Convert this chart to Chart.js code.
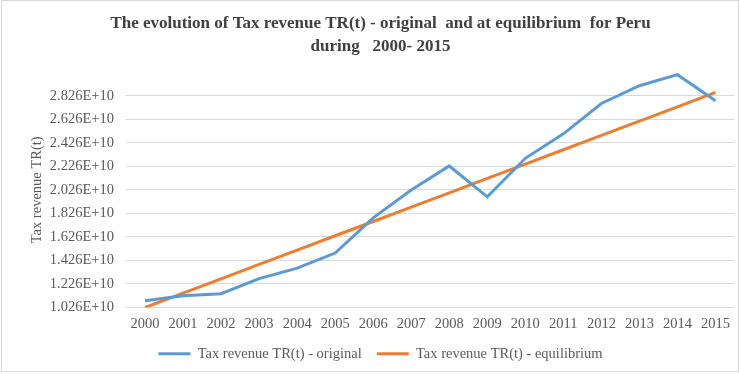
<!DOCTYPE html>
<html lang="en">
<head>
    <meta charset="UTF-8">
    <title>Tax revenue TR(t) - Peru</title>
    <script src="https://cdn.jsdelivr.net/npm/chart.js"></script>
    <style>
        body { margin: 0; background: #fff; }
        #wrap {
            position: absolute; left: 1px; top: 0px;
            width: 736px; height: 370px;
            border: 1px solid #d9d9d9;
        }
    </style>
</head>
<body>
<div id="wrap"><canvas id="taxChart"></canvas></div>

<script>
// data
const years = ['2000', '2001', '2002', '2003', '2004', '2005', '2006', '2007',
               '2008', '2009', '2010', '2011', '2012', '2013', '2014', '2015'];
const trOriginal = [1.083e10, 1.126e10, 1.143e10, 1.271e10, 1.361e10, 1.489e10, 1.788e10, 2.024e10,
                    2.229e10, 1.967e10, 2.294e10, 2.502e10, 2.760e10, 2.911e10, 3.005e10, 2.783e10];
const trEquilibrium = [1.026e10, 1.148e10, 1.270e10, 1.392e10, 1.514e10, 1.636e10, 1.757e10, 1.879e10,
                       2.001e10, 2.123e10, 2.245e10, 2.367e10, 2.489e10, 2.610e10, 2.732e10, 2.854e10];
const yTicks = [1.026e10, 1.226e10, 1.426e10, 1.626e10, 1.826e10, 2.026e10, 2.226e10, 2.426e10, 2.626e10, 2.826e10];

const serif = "'Liberation Serif', 'Times New Roman', serif";
const grey = '#595959';

const ctx = document.getElementById('taxChart').getContext('2d');
const chart = new Chart(ctx, {
    type: 'line',
    data: {
        labels: years,
        datasets: [{
            label: 'Tax revenue TR(t) - original',
            data: trOriginal,
            borderColor: '#5B9BD5',
            backgroundColor: '#5B9BD5',
            borderWidth: 3,
            pointRadius: 0,
            tension: 0
        }, {
            label: 'Tax revenue TR(t) - equilibrium',
            data: trEquilibrium,
            borderColor: '#ED7D31',
            backgroundColor: '#ED7D31',
            borderWidth: 3,
            pointRadius: 0,
            tension: 0
        }]
    },
    options: {
        responsive: true,
        maintainAspectRatio: false,
        animation: false,
        layout: { padding: { left: 22, right: 1, top: 0, bottom: 0 } },
        plugins: {
            title: {
                display: true,
                text: ['The evolution of Tax revenue TR(t) - original  and at equilibrium  for Peru',
                       'during   2000- 2015'],
                color: '#404040',
                font: { family: serif, size: 17, weight: 'bold', lineHeight: 1.3 },
                padding: { top: 12, bottom: 15 }
            },
            legend: {
                position: 'bottom',
                labels: {
                    color: grey,
                    font: { family: serif, size: 14.5 },
                    usePointStyle: true,
                    pointStyle: 'line',
                    pointStyleWidth: 32,
                    boxHeight: 3,
                    padding: 15
                }
            },
            tooltip: { enabled: false }
        },
        scales: {
            x: {
                offset: true,
                afterFit: (scale) => { scale.height = 24; },
                grid: { display: false, drawTicks: false },
                border: { display: false },
                ticks: { color: grey, font: { family: serif, size: 14.5 }, padding: 8, maxRotation: 0 }
            },
            y: {
                min: 1.026e10,
                max: 3.026e10,
                afterBuildTicks: (scale) => { scale.ticks = yTicks.map(v => ({ value: v })); },
                afterFit: (scale) => { scale.width = 102; },
                grid: { color: '#d9d9d9', drawTicks: false },
                border: { display: false },
                ticks: {
                    color: grey,
                    font: { family: serif, size: 14.5 },
                    padding: 12,
                    callback: (v) => Number(v).toExponential(3).toUpperCase()
                },
                title: {
                    display: true,
                    text: 'Tax revenue TR(t)',
                    color: grey,
                    font: { family: serif, size: 14.5 },
                    padding: { top: 4, bottom: 4 }
                }
            }
        }
    }
});
</script>
</body>
</html>
